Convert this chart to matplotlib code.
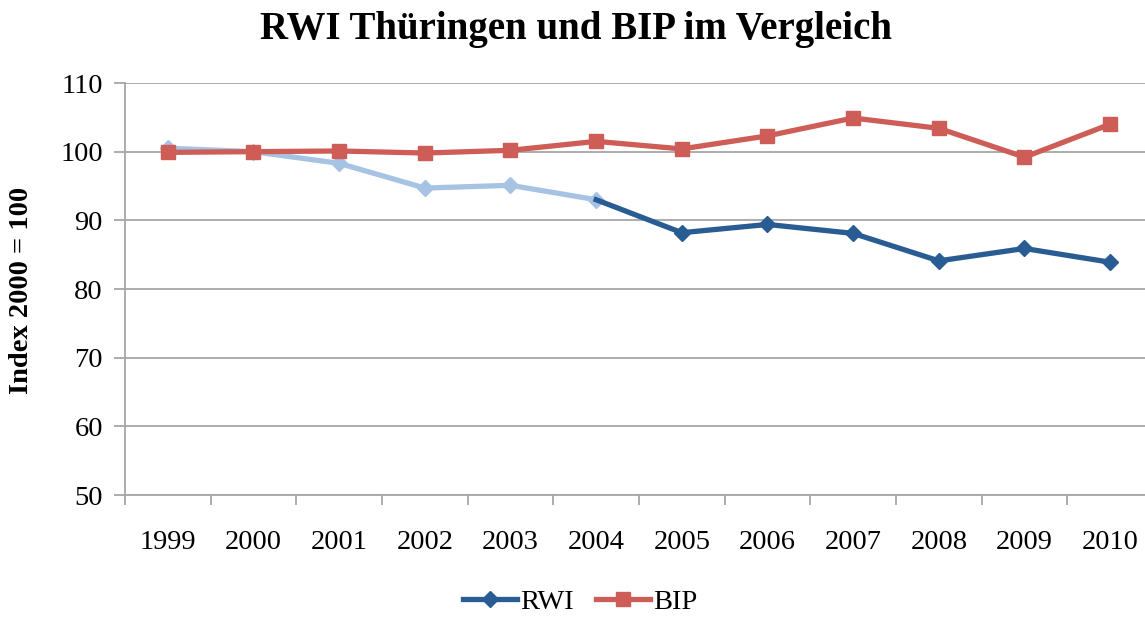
import matplotlib
matplotlib.use("Agg")
import matplotlib.pyplot as plt
from matplotlib.lines import Line2D

years = ["1999", "2000", "2001", "2002", "2003", "2004", "2005", "2006", "2007", "2008", "2009", "2010"]
rwi = [100.5, 100.0, 98.3, 94.7, 95.1, 93.0, 88.2, 89.4, 88.1, 84.1, 85.9, 83.9]
bip = [99.9, 100.0, 100.1, 99.8, 100.2, 101.5, 100.4, 102.3, 104.9, 103.4, 99.2, 104.0]
split = 5  # index of 2004: light colour up to here, dark afterwards

title = "RWI Thüringen und BIP im Vergleich"
ylabel = "Index 2000 = 100"
yticks = [50, 60, 70, 80, 90, 100, 110]

LIGHT = "#A7C3E4"
DARK = "#285C92"
RED = "#CD5D56"
GRID = "#A6A6A6"
FONT = "Liberation Serif"
FS = 20.5

plt.rcParams["font.family"] = [FONT, "DejaVu Serif"]

W, H = 1145, 617
fig = plt.figure(figsize=(W / 100, H / 100), dpi=100)
x0, x1 = 125, 1153
y0, y1 = 495, 83
ax = fig.add_axes([x0 / W, 1 - y0 / H, (x1 - x0) / W, (y0 - y1) / H])

xs = list(range(len(years)))
ax.plot(xs[:split + 1], rwi[:split + 1], color=LIGHT, lw=3.8, marker="D",
        ms=8, mec=LIGHT, mfc=LIGHT, zorder=3, solid_joinstyle="round")
ax.plot(xs[split:], rwi[split:], color=DARK, lw=3.8, marker="D", ms=8,
        mec=DARK, mfc=DARK, markevery=list(range(1, len(xs) - split)), zorder=3,
        solid_joinstyle="round")
ax.plot(xs, bip, color=RED, lw=3.8, marker="s", ms=10, mec=RED, mfc=RED,
        zorder=4, solid_joinstyle="round")

ax.set_xlim(-0.5, len(years) - 0.5)
ax.set_ylim(50, 110)
ax.set_yticks(yticks)
ax.set_yticklabels([str(v) for v in yticks], fontsize=FS)
ax.yaxis.grid(True, color=GRID, lw=1.3)
ax.set_axisbelow(True)
ax.set_xticks([i + 0.5 for i in range(-1, len(years))])
ax.set_xticklabels([])
ax.set_xticks(xs, minor=True)
ax.set_xticklabels(years, minor=True, fontsize=FS)
ax.tick_params(axis="x", which="minor", length=0, pad=25)
ax.tick_params(axis="x", which="major", length=7, width=1.3, color=GRID)
ax.tick_params(axis="y", length=8, width=1.3, color=GRID, pad=8)
for s in ["top", "right"]:
    ax.spines[s].set_visible(False)
for s in ["left", "bottom"]:
    ax.spines[s].set_color(GRID)
    ax.spines[s].set_linewidth(1.3)

fig.text(22 / W, 1 - 290 / H, ylabel, rotation=90, ha="center", va="center",
         fontsize=FS, fontweight="bold")
fig.text(576 / W, 1 - 30 / H, title, ha="center", va="center",
         fontsize=28, fontweight="bold")

handles = [
    Line2D([], [], color=DARK, lw=3.8, marker="D", ms=8, mec=DARK, mfc=DARK),
    Line2D([], [], color=RED, lw=3.8, marker="s", ms=10, mec=RED, mfc=RED),
]
fig.legend(handles, ["RWI", "BIP"], loc="center", bbox_to_anchor=(580 / W, 1 - 602 / H),
           ncol=2, frameon=False, fontsize=FS, handlelength=1.9, handletextpad=0.1,
           columnspacing=0.8, borderpad=0.1)

fig.savefig("out.png", dpi=100)
